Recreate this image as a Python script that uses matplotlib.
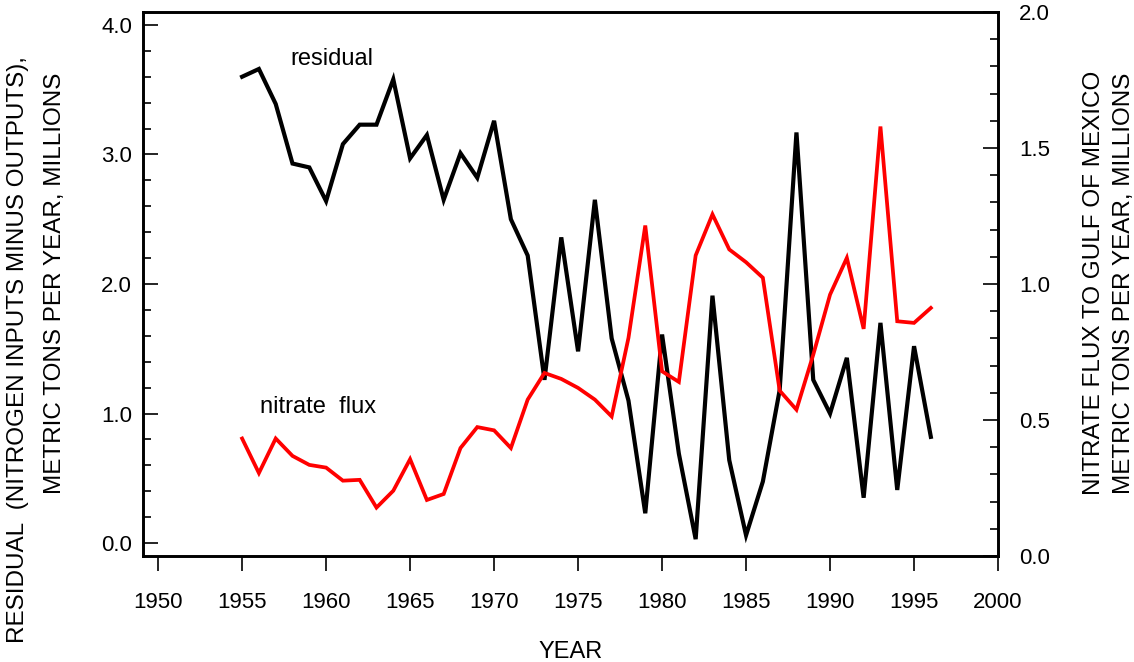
import matplotlib
matplotlib.use("Agg")
import matplotlib.pyplot as plt
from matplotlib.ticker import MultipleLocator, FormatStrFormatter

plt.rcParams['font.family'] = ['Liberation Sans', 'DejaVu Sans']

# years of record
years = list(range(1955, 1997))

# residual: nitrogen inputs minus outputs, million metric tons per year
residual = [3.60, 3.66, 3.39, 2.93, 2.90, 2.64, 3.08, 3.23, 3.23, 3.58,
            2.97, 3.15, 2.65, 3.01, 2.82, 3.26, 2.50, 2.22, 1.26, 2.36,
            1.48, 2.65, 1.58, 1.10, 0.23, 1.61, 0.69, 0.03, 1.91, 0.64,
            0.06, 0.475, 1.18, 3.17, 1.26, 1.00, 1.43, 0.35, 1.70, 0.41,
            1.52, 0.82]

# nitrate flux to the Gulf of Mexico, million metric tons per year
nitrate = [0.432, 0.305, 0.432, 0.368, 0.335, 0.325, 0.277, 0.280, 0.178, 0.240,
           0.356, 0.206, 0.228, 0.397, 0.474, 0.462, 0.397, 0.575, 0.673, 0.651,
           0.618, 0.575, 0.513, 0.802, 1.215, 0.679, 0.640, 1.105, 1.256, 1.127,
           1.080, 1.023, 0.608, 0.538, 0.740, 0.961, 1.096, 0.835, 1.579, 0.863,
           0.857, 0.912]

fig = plt.figure(figsize=(11.34, 6.62), dpi=100)
ax = fig.add_axes([0.1261, 0.1601, 0.7540, 0.8218])
ax2 = ax.twinx()

ax.plot(years, residual, color='black', lw=3.0, solid_joinstyle='miter')
ax2.plot(years, nitrate, color='#ff0000', lw=2.7, solid_joinstyle='miter')

ax.set_xlim(1949.1, 2000)
ax.set_ylim(-0.1, 4.1)
ax2.set_ylim(0, 2.0)

ax.xaxis.set_major_locator(MultipleLocator(5))
ax.xaxis.set_major_formatter(FormatStrFormatter('%d'))
ax.yaxis.set_major_locator(MultipleLocator(1))
ax.yaxis.set_minor_locator(MultipleLocator(0.2))
ax.yaxis.set_major_formatter(FormatStrFormatter('%.1f'))
ax2.yaxis.set_major_locator(MultipleLocator(0.5))
ax2.yaxis.set_minor_locator(MultipleLocator(0.1))
ax2.yaxis.set_major_formatter(FormatStrFormatter('%.1f'))

for a in (ax, ax2):
    for s in a.spines.values():
        s.set_linewidth(1.9)

ax.tick_params(axis='x', direction='out', length=11, width=1.2, pad=15, labelsize=16)
ax.tick_params(axis='y', which='major', direction='in', length=11, width=1.2, pad=8, labelsize=16)
ax.tick_params(axis='y', which='minor', direction='in', length=6, width=1.2)
ax2.tick_params(axis='y', which='major', direction='in', length=11, width=1.2, pad=15, labelsize=16)
ax2.tick_params(axis='y', which='minor', direction='in', length=6, width=1.2)

ax.set_xlabel('YEAR', fontsize=17, labelpad=20)

# axis titles, two lines each
fig.text(18 / 1134, 1 - 350 / 662, 'RESIDUAL  (NITROGEN INPUTS MINUS OUTPUTS),',
         rotation=90, fontsize=17.5, ha='center', va='center')
fig.text(55 / 1134, 1 - 283 / 662, 'METRIC TONS PER YEAR, MILLIONS',
         rotation=90, fontsize=17.5, ha='center', va='center')
fig.text(1094 / 1134, 1 - 283 / 662, 'NITRATE FLUX TO GULF OF MEXICO',
         rotation=90, fontsize=17.5, ha='center', va='center')
fig.text(1124 / 1134, 1 - 283 / 662, 'METRIC TONS PER YEAR, MILLIONS',
         rotation=90, fontsize=17.5, ha='center', va='center')

ax.text(1960.35, 3.74, 'residual', fontsize=17, ha='center', va='center')
ax.text(1959.5, 1.05, 'nitrate  flux', fontsize=17, ha='center', va='center')

fig.savefig('out.png', dpi=100)
